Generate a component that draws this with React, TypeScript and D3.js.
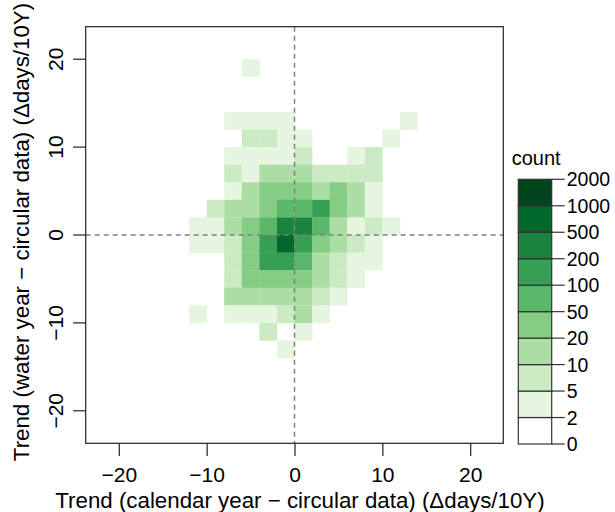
import { useEffect, useRef } from "react";
import * as d3 from "d3";

// bin lower edges (bin width 2)
const xBins = [-12, -10, -8, -6, -4, -2, 0, 2, 4, 6, 8, 10, 12];
const yBins = [18, 16, 14, 12, 10, 8, 6, 4, 2, 0, -2, -4, -6, -8, -10, -12, -14];
// estimated counts per bin, one row per yBin, one column per xBin
const counts = [
  [0, 0, 0, 3, 0, 0, 0, 0, 0, 0, 0, 0, 0],
  [0, 0, 0, 0, 0, 0, 0, 0, 0, 0, 0, 0, 0],
  [0, 0, 0, 0, 0, 0, 0, 0, 0, 0, 0, 0, 0],
  [0, 0, 3, 3, 3, 3, 0, 0, 0, 0, 0, 0, 3],
  [0, 0, 0, 7, 7, 3, 3, 0, 0, 0, 0, 3, 0],
  [0, 0, 3, 3, 3, 3, 7, 0, 0, 3, 7, 0, 0],
  [0, 0, 7, 3, 15, 15, 15, 7, 7, 7, 7, 0, 0],
  [0, 0, 3, 15, 35, 35, 35, 15, 35, 15, 3, 0, 0],
  [0, 7, 15, 15, 35, 75, 75, 150, 35, 15, 3, 0, 0],
  [3, 3, 15, 35, 75, 350, 350, 75, 15, 3, 7, 3, 0],
  [3, 3, 7, 35, 150, 700, 150, 35, 15, 7, 3, 0, 0],
  [0, 0, 7, 35, 150, 150, 75, 15, 7, 3, 3, 0, 0],
  [0, 0, 7, 35, 35, 35, 35, 15, 7, 3, 0, 0, 0],
  [0, 0, 15, 15, 15, 15, 15, 7, 3, 0, 0, 0, 0],
  [3, 0, 3, 3, 3, 7, 15, 3, 0, 0, 0, 0, 0],
  [0, 0, 0, 0, 7, 0, 3, 0, 0, 0, 0, 0, 0],
  [0, 0, 0, 0, 0, 3, 0, 0, 0, 0, 0, 0, 0],
];
const breaks = [0, 2, 5, 10, 20, 50, 100, 200, 500, 1000, 2000];
const axisTicks = [-20, -10, 0, 10, 20];
const binWidth = 2;

const FONT = "'Liberation Sans', Arial, Helvetica, sans-serif";

function App() {
  const ref = useRef<SVGSVGElement>(null);

  useEffect(() => {
    const svg = d3.select(ref.current);
    svg.selectAll("*").remove();

    const left = 85.7, right = 503.3, top = 26.7, bottom = 443.3;
    const x = d3.scaleLinear().domain([-23.77, 23.77]).range([left, right]);
    const y = d3.scaleLinear().domain([-23.7, 23.7]).range([bottom, top]);

    const ramp = d3.piecewise(d3.interpolateRgb, d3.schemeGreens[9].slice(1));
    const palette = ["#ffffff"].concat(d3.range(9).map((i) => ramp(i / 8)));
    const color = d3.scaleThreshold<number, string>().domain(breaks.slice(1, -1)).range(palette);

    const cells: { x0: number; y0: number; n: number }[] = [];
    yBins.forEach((y0, r) =>
      xBins.forEach((x0, c) => {
        if (counts[r][c] > 0) cells.push({ x0, y0, n: counts[r][c] });
      })
    );

    svg
      .append("g")
      .selectAll("rect")
      .data(cells)
      .enter()
      .append("rect")
      .attr("x", (d) => x(d.x0))
      .attr("y", (d) => y(d.y0 + binWidth))
      .attr("width", (d) => x(d.x0 + binWidth) - x(d.x0) + 0.3)
      .attr("height", (d) => y(d.y0) - y(d.y0 + binWidth) + 0.3)
      .attr("fill", (d) => color(d.n));

    // reference lines
    svg
      .append("line")
      .attr("x1", x(0)).attr("x2", x(0))
      .attr("y1", top).attr("y2", bottom)
      .attr("stroke", "#808080").attr("stroke-width", 1.5)
      .attr("stroke-dasharray", "5,4");
    svg
      .append("line")
      .attr("x1", left).attr("x2", right)
      .attr("y1", y(0)).attr("y2", y(0))
      .attr("stroke", "#808080").attr("stroke-width", 1.5)
      .attr("stroke-dasharray", "5,4");

    svg
      .append("rect")
      .attr("x", left).attr("y", top)
      .attr("width", right - left).attr("height", bottom - top)
      .attr("fill", "none").attr("stroke", "#222").attr("stroke-width", 1.2);

    const tickLen = 12.6;
    // x axis
    const gx = svg
      .append("g")
      .attr("transform", `translate(0,${bottom})`)
      .call(d3.axisBottom(x).tickValues(axisTicks).tickSize(tickLen).tickPadding(10.8).tickFormat(d3.format("d")));
    gx.select(".domain").remove();
    gx.selectAll("line").attr("stroke", "#222").attr("stroke-width", 1.2);
    gx.selectAll("text").attr("font-size", 21).attr("font-family", FONT).attr("fill", "#000");

    // y axis, labels parallel to axis
    const gy = svg.append("g");
    gy.selectAll("line")
      .data(axisTicks)
      .enter()
      .append("line")
      .attr("x1", left - tickLen).attr("x2", left)
      .attr("y1", (d) => y(d)).attr("y2", (d) => y(d))
      .attr("stroke", "#222").attr("stroke-width", 1.2);
    gy.selectAll("text")
      .data(axisTicks)
      .enter()
      .append("text")
      .attr("transform", (d) => `translate(63.3,${y(d)}) rotate(-90)`)
      .attr("text-anchor", "middle")
      .attr("font-size", 21)
      .attr("font-family", FONT)
      .text((d) => d3.format("d")(d));

    svg
      .append("text")
      .attr("x", 300).attr("y", 508)
      .attr("text-anchor", "middle")
      .attr("font-size", 22.3).attr("font-family", FONT)
      .text("Trend (calendar year \u2212 circular data) (\u0394days/10Y)");
    svg
      .append("text")
      .attr("transform", `translate(28.5,232) rotate(-90)`)
      .attr("text-anchor", "middle")
      .attr("font-size", 22.3).attr("font-family", FONT)
      .text("Trend (water year \u2212 circular data) (\u0394days/10Y)");

    // legend
    const lx = 518.3, lw = 33.4;
    const ly = d3.scaleLinear().domain([0, breaks.length - 1]).range([444, 179.3]);
    const gl = svg.append("g");
    gl.append("text")
      .attr("x", 511.7).attr("y", 165)
      .attr("font-size", 20).attr("font-family", FONT)
      .text("count");
    gl.selectAll("rect")
      .data(palette)
      .enter()
      .append("rect")
      .attr("x", lx)
      .attr("y", (d, i) => ly(i + 1))
      .attr("width", lw)
      .attr("height", (d, i) => ly(i) - ly(i + 1))
      .attr("fill", (d) => d)
      .attr("stroke", "#333").attr("stroke-width", 1.2);
    gl.selectAll("line")
      .data(breaks)
      .enter()
      .append("line")
      .attr("x1", lx + lw).attr("x2", lx + lw + 13)
      .attr("y1", (d, i) => ly(i)).attr("y2", (d, i) => ly(i))
      .attr("stroke", "#333").attr("stroke-width", 1.2);
    gl.selectAll("text.lab")
      .data(breaks)
      .enter()
      .append("text")
      .attr("class", "lab")
      .attr("x", lx + lw + 15)
      .attr("y", (d, i) => ly(i))
      .attr("dy", "0.36em")
      .attr("font-size", 19.5).attr("font-family", FONT)
      .text((d) => d);
  }, []);

  return (
    <svg
      ref={ref}
      width={615}
      height={512}
      style={{ position: "absolute", left: 0, top: 0, background: "#fff" }}
    ></svg>
  );
}

export default App;
